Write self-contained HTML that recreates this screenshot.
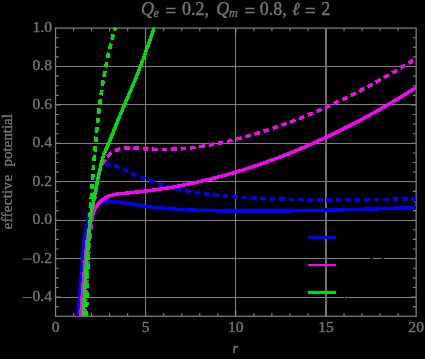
<!DOCTYPE html>
<html><head><meta charset="utf-8"><title>plot</title>
<style>html,body{margin:0;padding:0;background:#000;width:425px;height:359px;overflow:hidden}svg{display:block;position:absolute;left:0;top:0;will-change:transform}svg text{font-family:"Liberation Serif",serif}</style></head>
<body>
<svg width="425" height="359" viewBox="0 0 425 359">
<rect x="0" y="0" width="425" height="359" fill="#000"/>
<path d="M145.5 28.1 V316.25 M235.5 28.1 V316.25 M55.55 297.5 H416.15 M55.55 258.5 H416.15 M55.55 220.5 H416.15 M55.55 181.5 H416.15 M55.55 143.5 H416.15 M55.55 104.5 H416.15 M55.55 66.5 H416.15" stroke="#808080" stroke-width="1" fill="none" shape-rendering="crispEdges"/>
<path d="M326 28.1 V316.25" stroke="#6e6e6e" stroke-width="2" fill="none" shape-rendering="crispEdges"/>
<rect x="55.55" y="28.1" width="360.59999999999997" height="288.15" fill="none" stroke="#808080" stroke-width="1.25"/>
<path d="M73.58 316.25 v-3.2 M73.58 28.1 v3.2 M91.61 316.25 v-3.2 M91.61 28.1 v3.2 M109.64 316.25 v-3.2 M109.64 28.1 v3.2 M127.67 316.25 v-3.2 M127.67 28.1 v3.2 M145.70 316.25 v-5.2 M145.70 28.1 v5.2 M163.73 316.25 v-3.2 M163.73 28.1 v3.2 M181.76 316.25 v-3.2 M181.76 28.1 v3.2 M199.79 316.25 v-3.2 M199.79 28.1 v3.2 M217.82 316.25 v-3.2 M217.82 28.1 v3.2 M235.85 316.25 v-5.2 M235.85 28.1 v5.2 M253.88 316.25 v-3.2 M253.88 28.1 v3.2 M271.91 316.25 v-3.2 M271.91 28.1 v3.2 M289.94 316.25 v-3.2 M289.94 28.1 v3.2 M307.97 316.25 v-3.2 M307.97 28.1 v3.2 M326.00 316.25 v-5.2 M326.00 28.1 v5.2 M344.03 316.25 v-3.2 M344.03 28.1 v3.2 M362.06 316.25 v-3.2 M362.06 28.1 v3.2 M380.09 316.25 v-3.2 M380.09 28.1 v3.2 M398.12 316.25 v-3.2 M398.12 28.1 v3.2 M55.55 306.64 h3.2 M416.15 306.64 h-3.2 M55.55 297.04 h5.2 M416.15 297.04 h-5.2 M55.55 287.44 h3.2 M416.15 287.44 h-3.2 M55.55 277.83 h3.2 M416.15 277.83 h-3.2 M55.55 268.22 h3.2 M416.15 268.22 h-3.2 M55.55 258.62 h5.2 M416.15 258.62 h-5.2 M55.55 249.01 h3.2 M416.15 249.01 h-3.2 M55.55 239.41 h3.2 M416.15 239.41 h-3.2 M55.55 229.80 h3.2 M416.15 229.80 h-3.2 M55.55 220.20 h5.2 M416.15 220.20 h-5.2 M55.55 210.59 h3.2 M416.15 210.59 h-3.2 M55.55 200.99 h3.2 M416.15 200.99 h-3.2 M55.55 191.38 h3.2 M416.15 191.38 h-3.2 M55.55 181.78 h5.2 M416.15 181.78 h-5.2 M55.55 172.17 h3.2 M416.15 172.17 h-3.2 M55.55 162.57 h3.2 M416.15 162.57 h-3.2 M55.55 152.96 h3.2 M416.15 152.96 h-3.2 M55.55 143.36 h5.2 M416.15 143.36 h-5.2 M55.55 133.75 h3.2 M416.15 133.75 h-3.2 M55.55 124.15 h3.2 M416.15 124.15 h-3.2 M55.55 114.54 h3.2 M416.15 114.54 h-3.2 M55.55 104.94 h5.2 M416.15 104.94 h-5.2 M55.55 95.33 h3.2 M416.15 95.33 h-3.2 M55.55 85.73 h3.2 M416.15 85.73 h-3.2 M55.55 76.12 h3.2 M416.15 76.12 h-3.2 M55.55 66.52 h5.2 M416.15 66.52 h-5.2 M55.55 56.91 h3.2 M416.15 56.91 h-3.2 M55.55 47.31 h3.2 M416.15 47.31 h-3.2 M55.55 37.70 h3.2 M416.15 37.70 h-3.2" stroke="#808080" stroke-width="1.1" fill="none"/>
<clipPath id="cp"><rect x="55.55" y="27.4" width="360.60" height="288.85"/></clipPath>
<g clip-path="url(#cp)" stroke="none" shape-rendering="crispEdges">
<path d="M78.67 340.10 L79.03 331.13 L79.50 322.16 L80.08 313.19 L80.96 301.24 L84.20 262.38 L85.59 244.45 L86.18 238.53 L86.55 235.59 L87.00 232.68 L87.54 229.79 L88.19 226.93 L88.95 224.10 L89.84 221.33 L90.88 218.62 L92.07 215.98 L93.42 213.43 L94.93 211.01 L96.64 208.79 L98.58 206.84 L100.77 205.25 L103.20 204.09 L105.82 203.36 L108.58 203.02 L111.42 202.99 L114.31 203.17 L117.22 203.49 L120.14 203.92 L131.95 205.98 L137.90 206.93 L143.87 207.78 L152.84 208.88 L158.82 209.52 L164.82 210.08 L170.82 210.57 L176.82 210.99 L188.84 211.66 L194.84 211.91 L203.86 212.21 L218.88 212.54 L239.89 212.75 L260.91 212.78 L281.92 212.65 L305.93 212.33 L329.93 211.85 L356.93 211.17 L383.93 210.36 L419.41 209.18 L419.29 205.74 L383.82 206.91 L356.84 207.72 L329.85 208.41 L305.87 208.88 L281.88 209.20 L260.90 209.33 L239.91 209.30 L218.93 209.09 L203.95 208.76 L194.98 208.47 L189.00 208.21 L177.05 207.55 L171.08 207.13 L165.12 206.64 L159.17 206.09 L153.22 205.46 L144.33 204.36 L138.41 203.51 L132.51 202.58 L120.68 200.51 L117.66 200.07 L114.61 199.73 L111.51 199.54 L108.35 199.58 L105.16 199.97 L102.00 200.85 L99.02 202.28 L96.34 204.21 L94.05 206.51 L92.10 209.04 L91.79 209.54 L90.43 211.71 L89.23 213.98 L87.70 217.29 L86.59 220.19 L85.64 223.12 L84.84 226.10 L84.16 229.09 L83.60 232.10 L83.14 235.11 L82.75 238.13 L82.43 241.14 L81.91 247.15 L80.52 265.09 L77.76 297.98 L76.85 309.96 L76.06 321.96 L75.58 330.96 L75.22 339.98Z" fill="#0000ff"/>
<path d="M84.29 340.08 L84.64 334.91 L81.05 334.68 L80.70 339.82Z M84.87 331.06 L85.16 325.45 L81.56 325.28 L81.28 330.86Z M85.32 321.60 L85.52 315.99 L81.93 315.88 L81.72 321.46Z M85.64 312.15 L85.79 306.54 L82.19 306.46 L82.04 312.05Z M85.87 302.70 L85.98 297.09 L82.38 297.03 L82.27 302.62Z M86.05 293.25 L86.15 287.65 L82.55 287.59 L82.45 293.19Z M86.22 283.81 L86.32 278.22 L82.72 278.15 L82.62 283.75Z M86.40 274.38 L86.54 268.79 L82.94 268.70 L82.80 274.30Z M86.65 264.96 L86.84 259.38 L83.24 259.24 L83.05 264.85Z M86.99 255.55 L87.25 249.97 L83.66 249.78 L83.39 255.39Z M87.47 246.15 L87.83 240.59 L84.24 240.33 L83.87 245.94Z M88.12 236.77 L88.60 231.22 L85.01 230.88 L84.53 236.48Z M88.97 227.41 L89.60 221.88 L86.03 221.45 L85.39 227.04Z M90.08 218.09 L90.88 212.58 L87.32 212.04 L86.51 217.62Z M91.48 208.81 L92.44 203.33 L88.90 202.68 L87.93 208.23Z M93.15 199.57 L94.23 194.09 L90.70 193.38 L89.61 198.89Z M95.00 190.34 L96.14 184.88 L92.63 184.11 L91.47 189.61Z M97.00 181.20 L97.48 179.35 L98.32 176.58 L98.53 176.04 L95.17 174.74 L94.92 175.41 L94.01 178.38 L93.52 180.31Z M99.99 172.73 L100.62 171.54 L102.25 169.49 L102.95 168.95 L100.73 166.12 L99.72 166.93 L98.02 169.04 L97.61 169.56 L96.81 171.04Z M105.83 167.22 L106.57 166.89 L109.09 166.53 L110.42 166.67 L110.75 163.08 L109.03 162.93 L108.32 163.01 L105.61 163.42 L104.38 163.93Z M113.88 167.35 L114.40 167.49 L117.08 168.49 L118.83 169.27 L120.29 165.98 L118.44 165.16 L115.50 164.06 L114.80 163.87Z M122.24 170.88 L127.29 173.34 L128.84 170.09 L123.82 167.65Z M130.83 174.96 L136.01 177.19 L137.39 173.87 L132.29 171.67Z M139.58 178.65 L144.80 180.73 L146.12 177.38 L140.93 175.31Z M148.39 182.13 L153.70 184.08 L154.88 180.67 L149.68 178.76Z M157.37 185.32 L162.76 187.01 L163.79 183.56 L158.49 181.90Z M166.47 188.08 L171.93 189.53 L172.82 186.04 L167.45 184.61Z M175.69 190.44 L181.20 191.67 L181.95 188.15 L176.52 186.94Z M184.99 192.45 L190.52 193.47 L191.16 189.93 L185.68 188.91Z M194.34 194.12 L199.90 194.98 L200.42 191.41 L194.91 190.57Z M203.73 195.51 L209.31 196.22 L209.73 192.64 L204.20 191.94Z M213.14 196.65 L218.73 197.24 L219.08 193.65 L213.53 193.08Z M222.56 197.60 L228.16 198.08 L228.45 194.49 L222.89 194.01Z M232.00 198.38 L237.59 198.79 L237.84 195.20 L232.27 194.79Z M241.43 199.05 L247.03 199.40 L247.25 195.81 L241.67 195.46Z M250.87 199.62 L256.47 199.93 L256.66 196.33 L251.08 196.03Z M260.31 200.12 L265.92 200.38 L266.07 196.78 L260.49 196.52Z M269.76 200.54 L275.36 200.76 L275.49 197.16 L269.90 196.94Z M279.20 200.89 L284.81 201.07 L284.91 197.47 L279.32 197.29Z M288.65 201.17 L294.26 201.31 L294.34 197.71 L288.75 197.57Z M298.10 201.39 L303.71 201.49 L303.77 197.89 L298.17 197.79Z M307.55 201.55 L313.16 201.62 L313.20 198.02 L307.60 197.95Z M317.00 201.66 L322.61 201.70 L322.63 198.10 L317.03 198.06Z M326.45 201.71 L332.05 201.72 L332.06 198.12 L326.46 198.11Z M335.90 201.72 L341.50 201.71 L341.49 198.11 L335.89 198.12Z M345.35 201.69 L350.95 201.65 L350.92 198.05 L345.33 198.09Z M354.79 201.62 L360.40 201.57 L360.36 197.97 L354.76 198.02Z M364.24 201.52 L369.84 201.45 L369.79 197.85 L364.19 197.92Z M373.68 201.39 L379.28 201.30 L379.22 197.70 L373.63 197.79Z M383.12 201.23 L388.73 201.13 L388.66 197.53 L383.06 197.64Z M392.57 201.06 L398.17 200.95 L398.09 197.35 L392.50 197.46Z M402.01 200.87 L407.61 200.75 L407.53 197.15 L401.93 197.27Z M411.45 200.67 L417.05 200.54 L416.97 196.94 L411.37 197.07Z" fill="#0000ff"/>
<path d="M80.94 340.09 L81.63 328.12 L82.42 316.16 L83.53 301.22 L84.73 286.28 L86.27 268.35 L87.87 250.44 L88.85 241.54 L89.68 235.65 L90.70 229.80 L91.30 226.90 L91.96 224.02 L92.70 221.16 L93.50 218.32 L94.39 215.51 L95.37 212.76 L96.49 210.11 L97.81 207.60 L99.38 205.27 L101.20 203.14 L103.24 201.26 L105.52 199.67 L107.99 198.37 L110.62 197.36 L113.37 196.58 L116.20 195.99 L119.09 195.55 L122.02 195.21 L133.96 194.11 L142.94 193.13 L151.90 192.01 L160.84 190.74 L166.79 189.80 L172.22 188.89 L181.60 187.18 L190.95 185.30 L196.34 184.14 L202.21 182.81 L210.50 180.83 L216.82 179.22 L225.54 176.88 L234.22 174.39 L242.86 171.78 L251.46 169.03 L260.01 166.16 L268.52 163.16 L276.99 160.03 L285.41 156.79 L293.79 153.44 L304.88 148.79 L313.15 145.18 L324.10 140.19 L332.26 136.34 L343.06 131.05 L351.10 126.97 L361.75 121.38 L369.68 117.09 L380.18 111.23 L388.00 106.73 L398.35 100.61 L408.62 94.35 L418.37 88.23 L416.52 85.32 L406.80 91.42 L396.58 97.66 L386.27 103.75 L378.48 108.23 L368.02 114.06 L360.13 118.34 L349.52 123.90 L341.51 127.96 L330.76 133.23 L322.64 137.07 L311.75 142.02 L303.52 145.62 L292.48 150.24 L284.15 153.58 L275.77 156.81 L267.35 159.91 L258.89 162.89 L250.38 165.75 L241.83 168.49 L233.24 171.09 L224.62 173.55 L215.95 175.88 L209.67 177.48 L201.43 179.45 L195.60 180.77 L189.75 182.03 L180.95 183.79 L171.64 185.49 L166.23 186.40 L160.32 187.33 L151.44 188.59 L142.54 189.71 L133.62 190.67 L121.66 191.78 L118.64 192.13 L115.59 192.59 L112.55 193.23 L109.53 194.08 L106.57 195.23 L103.72 196.72 L101.08 198.57 L98.71 200.75 L96.63 203.18 L94.85 205.83 L93.38 208.63 L93.15 209.16 L92.16 211.51 L91.12 214.41 L90.20 217.32 L89.37 220.25 L88.61 223.20 L87.93 226.17 L87.31 229.14 L86.76 232.12 L85.83 238.11 L85.43 241.11 L84.74 247.10 L83.89 256.09 L82.06 277.02 L80.56 294.96 L79.41 309.93 L78.38 324.91 L77.49 339.90Z" fill="#ff00ff"/>
<path d="M86.08 333.06 L86.30 327.46 L82.70 327.32 L82.48 332.92Z M86.45 323.63 L86.68 318.03 L83.09 317.88 L82.86 323.48Z M86.85 314.20 L87.10 308.61 L83.50 308.45 L83.25 314.04Z M87.28 304.78 L87.55 299.19 L83.95 299.01 L83.68 304.61Z M87.74 295.36 L88.04 289.77 L84.44 289.57 L84.14 295.17Z M88.25 285.94 L88.58 280.35 L84.99 280.14 L84.66 285.73Z M88.82 276.53 L89.18 270.95 L85.59 270.70 L85.22 276.30Z M89.44 267.12 L89.85 261.54 L86.26 261.27 L85.85 266.87Z M90.14 257.72 L90.59 252.15 L87.00 251.85 L86.55 257.44Z M90.91 248.33 L91.41 242.76 L87.83 242.43 L87.33 248.02Z M91.77 238.94 L92.32 233.38 L88.74 233.02 L88.19 238.60Z M92.72 229.57 L93.32 224.01 L89.75 223.61 L89.14 229.19Z M93.76 220.21 L94.43 214.66 L90.86 214.22 L90.19 219.79Z M94.91 210.86 L95.64 205.32 L92.07 204.83 L91.34 210.40Z M96.16 201.52 L96.96 195.99 L93.40 195.46 L92.60 201.02Z M97.53 192.20 L98.40 186.69 L94.85 186.11 L93.97 191.66Z M99.04 182.92 L99.74 179.21 L100.12 177.51 L96.61 176.73 L96.22 178.48 L95.49 182.30Z M101.02 173.85 L101.96 170.70 L102.68 168.67 L99.29 167.46 L98.54 169.57 L97.54 172.94Z M104.07 165.27 L105.35 162.75 L106.68 160.59 L103.64 158.66 L102.21 160.99 L100.81 163.75Z M108.80 157.83 L110.46 156.11 L112.68 154.37 L110.67 151.38 L108.05 153.43 L106.20 155.34Z M115.76 152.65 L117.57 151.84 L120.26 150.97 L120.69 150.87 L119.89 147.36 L119.30 147.49 L116.28 148.48 L114.29 149.36Z M124.31 150.15 L125.87 149.93 L128.74 149.72 L129.65 149.71 L129.60 146.11 L128.59 146.13 L125.48 146.35 L123.79 146.59Z M133.41 149.74 L134.58 149.78 L138.91 150.07 L139.20 146.48 L134.75 146.18 L133.52 146.14Z M142.72 150.40 L148.34 150.84 L148.59 147.24 L143.04 146.81Z M152.21 151.06 L157.85 151.25 L157.94 147.65 L152.39 147.46Z M161.73 151.30 L167.37 151.24 L167.30 147.64 L161.74 147.70Z M171.25 151.12 L176.88 150.85 L176.65 147.25 L171.10 147.53Z M180.73 150.58 L186.35 150.10 L185.99 146.51 L180.46 146.99Z M190.19 149.69 L195.79 149.01 L195.31 145.45 L189.79 146.12Z M199.61 148.49 L205.18 147.63 L204.60 144.08 L199.10 144.92Z M208.98 146.99 L214.52 145.96 L213.84 142.43 L208.37 143.44Z M218.31 145.21 L223.81 144.04 L223.04 140.52 L217.59 141.68Z M227.58 143.19 L233.05 141.89 L232.19 138.39 L226.77 139.69Z M236.79 140.95 L242.23 139.52 L241.29 136.05 L235.90 137.46Z M245.95 138.50 L251.36 136.97 L250.35 133.51 L244.98 135.04Z M255.05 135.88 L260.43 134.25 L259.36 130.81 L254.02 132.43Z M264.10 133.09 L269.45 131.36 L268.32 127.94 L263.01 129.66Z M273.10 130.14 L278.42 128.31 L277.23 124.92 L271.95 126.73Z M282.05 127.03 L287.33 125.12 L286.09 121.74 L280.84 123.64Z M290.94 123.77 L296.19 121.77 L294.89 118.41 L289.67 120.40Z M299.78 120.36 L304.99 118.27 L303.63 114.94 L298.45 117.01Z M308.55 116.81 L313.73 114.64 L312.32 111.33 L307.18 113.48Z M317.27 113.12 L322.42 110.87 L320.96 107.58 L315.85 109.82Z M325.93 109.30 L331.05 106.98 L329.54 103.71 L324.46 106.02Z M334.54 105.36 L339.61 102.96 L338.07 99.71 L333.02 102.10Z M343.09 101.29 L348.13 98.82 L346.53 95.59 L341.52 98.05Z M351.58 97.10 L356.58 94.57 L354.94 91.36 L349.96 93.89Z M360.01 92.80 L364.98 90.20 L363.30 87.02 L358.35 89.61Z M368.38 88.40 L373.32 85.74 L371.60 82.57 L366.68 85.22Z M376.70 83.89 L381.61 81.17 L379.85 78.03 L374.96 80.73Z M384.96 79.28 L389.84 76.50 L388.04 73.38 L383.19 76.15Z M393.17 74.58 L398.01 71.75 L396.19 68.64 L391.36 71.46Z M401.32 69.79 L406.14 66.90 L404.28 63.82 L399.48 66.69Z M409.43 64.90 L414.21 61.97 L412.32 58.91 L407.55 61.83Z" fill="#ff00ff"/>
<path d="M83.67 340.08 L85.79 301.15 L86.69 286.18 L87.66 271.23 L88.73 256.28 L89.68 244.33 L90.70 232.38 L91.55 223.45 L92.26 217.55 L92.70 214.62 L93.22 211.71 L99.02 182.30 L100.81 173.49 L102.06 167.65 L102.73 164.76 L103.47 161.89 L104.27 159.06 L105.17 156.26 L106.16 153.50 L107.28 150.78 L109.68 145.29 L112.02 139.74 L119.90 120.26 L123.32 111.96 L131.61 92.68 L135.13 84.37 L138.54 76.02 L142.91 64.81 L146.06 56.35 L150.07 45.01 L153.88 33.60 L157.33 22.60 L154.03 21.59 L150.59 32.53 L146.80 43.89 L142.81 55.17 L139.69 63.59 L135.34 74.74 L131.95 83.05 L128.44 91.32 L120.14 110.62 L116.70 118.96 L108.83 138.42 L106.51 143.93 L104.11 149.43 L102.95 152.26 L101.90 155.14 L100.97 158.06 L100.14 160.99 L99.38 163.94 L98.69 166.89 L97.43 172.79 L95.63 181.62 L89.83 211.07 L89.30 214.07 L88.85 217.07 L88.12 223.09 L87.27 232.07 L86.24 244.04 L85.29 256.02 L84.22 270.99 L83.24 285.97 L82.34 300.95 L80.22 339.90Z" fill="#00e000"/>
<path d="M91.33 227.01 L91.63 221.42 L88.04 221.23 L87.74 226.82Z M91.85 217.59 L92.17 212.01 L88.58 211.79 L88.25 217.39Z M92.40 208.18 L92.75 202.59 L89.16 202.36 L88.81 207.96Z M93.00 198.76 L93.37 193.18 L89.78 192.94 L89.41 198.53Z M93.64 189.35 L94.03 183.77 L90.44 183.51 L90.04 189.10Z M94.31 179.95 L94.74 174.37 L91.15 174.09 L90.72 179.68Z M95.03 170.54 L95.48 164.96 L91.89 164.67 L91.44 170.26Z M95.80 161.14 L96.27 155.56 L92.68 155.26 L92.21 160.84Z M96.60 151.74 L97.10 146.17 L93.52 145.84 L93.02 151.43Z M97.45 142.35 L97.98 136.78 L94.40 136.44 L93.87 142.02Z M98.36 132.97 L98.92 127.40 L95.34 127.03 L94.77 132.61Z M99.33 123.59 L99.95 118.04 L96.37 117.63 L95.75 123.20Z M100.39 114.23 L101.06 108.68 L97.49 108.23 L96.81 113.81Z M101.54 104.88 L102.28 99.34 L98.71 98.85 L97.97 104.42Z M102.81 95.55 L103.62 90.02 L100.06 89.49 L99.25 95.04Z M104.21 86.24 L105.10 80.73 L101.55 80.14 L100.65 85.68Z M105.74 76.96 L106.73 71.46 L103.19 70.81 L102.20 76.34Z M107.44 67.70 L108.52 62.23 L105.00 61.51 L103.90 67.02Z M109.31 58.48 L110.50 53.04 L106.99 52.24 L105.78 57.73Z M111.36 49.31 L112.66 43.89 L109.17 43.02 L107.85 48.48Z M113.60 40.18 L115.04 34.79 L111.56 33.84 L110.12 39.28Z M116.06 31.11 L117.63 25.76 L114.18 24.73 L112.60 30.13Z M88.09 335.58 L88.14 329.99 L84.54 329.95 L84.49 335.55Z M88.18 326.15 L88.26 320.56 L84.66 320.50 L84.59 326.11Z M88.31 316.72 L88.41 311.12 L84.81 311.06 L84.72 316.66Z M88.48 307.29 L88.59 301.69 L84.99 301.62 L84.88 307.22Z M88.68 297.86 L88.81 292.26 L85.21 292.17 L85.08 297.77Z M88.91 288.43 L89.07 282.83 L85.47 282.73 L85.31 288.33Z M89.18 279.00 L89.36 273.40 L85.76 273.28 L85.58 278.89Z M89.49 269.57 L89.69 263.98 L86.09 263.84 L85.89 269.44Z M89.83 260.14 L90.05 254.55 L86.45 254.40 L86.23 260.00Z M90.21 250.71 L90.45 245.12 L86.86 244.96 L86.61 250.56Z M90.63 241.29 L90.89 235.70 L87.30 235.53 L87.03 241.13Z M91.08 231.87 L91.37 226.28 L87.78 226.09 L87.49 231.69Z" fill="#00e000"/>
</g>
<g stroke="#747474" stroke-width="0.4">
<text x="52.0" y="300.99" text-anchor="end" font-size="15.6" fill="#747474">0.4</text>
<path d="M22.8 297.49 H31.7" stroke="#747474" stroke-width="1.0" fill="none"/>
<text x="52.0" y="262.57" text-anchor="end" font-size="15.6" fill="#747474">0.2</text>
<path d="M22.8 259.07 H31.7" stroke="#747474" stroke-width="1.0" fill="none"/>
<text x="52.0" y="224.15" text-anchor="end" font-size="15.6" fill="#747474">0.0</text>
<text x="52.0" y="185.73" text-anchor="end" font-size="15.6" fill="#747474">0.2</text>
<text x="52.0" y="147.31" text-anchor="end" font-size="15.6" fill="#747474">0.4</text>
<text x="52.0" y="108.89" text-anchor="end" font-size="15.6" fill="#747474">0.6</text>
<text x="52.0" y="70.47" text-anchor="end" font-size="15.6" fill="#747474">0.8</text>
<text x="52.0" y="32.05" text-anchor="end" font-size="15.6" fill="#747474">1.0</text>
<text x="55.55" y="332.2" text-anchor="middle" font-size="15.6" fill="#747474">0</text>
<text x="145.70" y="332.2" text-anchor="middle" font-size="15.6" fill="#747474">5</text>
<text x="235.85" y="332.2" text-anchor="middle" font-size="15.6" fill="#747474">10</text>
<text x="326.00" y="332.2" text-anchor="middle" font-size="15.6" fill="#747474">15</text>
<text x="416.15" y="332.2" text-anchor="middle" font-size="15.6" fill="#747474">20</text>
<text x="235.25" y="353.1" text-anchor="middle" font-size="14.5" font-style="italic" fill="#747474">r</text>
<text transform="translate(12.3,202.1) rotate(-90)" text-anchor="middle" font-size="15" letter-spacing="0.3" fill="#747474">effective</text>
<text transform="translate(12.3,140.3) rotate(-90)" text-anchor="middle" font-size="15" fill="#747474">potential</text>
<text x="141.0" y="15.0" font-size="18" text-anchor="start" fill="#747474" font-style="italic">Q</text>
<text x="153.6" y="17.3" font-size="12.2" text-anchor="start" fill="#747474" font-style="italic">e</text>
<text x="165.5" y="16.6" font-size="19" text-anchor="start" fill="#747474">=</text>
<text x="181.9" y="15.0" font-size="18" text-anchor="start" fill="#747474">0.2,</text>
<text x="216.3" y="15.0" font-size="18" text-anchor="start" fill="#747474" font-style="italic">Q</text>
<text x="228.9" y="17.3" font-size="12.2" text-anchor="start" fill="#747474" font-style="italic">m</text>
<text x="244.5" y="16.6" font-size="19" text-anchor="start" fill="#747474">=</text>
<text x="259.7" y="15.0" font-size="18" text-anchor="start" fill="#747474">0.8,</text>
<text x="292.0" y="15.0" font-size="18" text-anchor="start" fill="#747474" font-style="italic">ℓ</text>
<text x="305.0" y="16.6" font-size="19" text-anchor="start" fill="#747474">=</text>
<text x="321.2" y="15.0" font-size="18" text-anchor="start" fill="#747474">2</text>
</g>
<path d="M308 237.5 H336" stroke="#0000ff" stroke-width="3" shape-rendering="crispEdges"/>
<path d="M308 265 H336" stroke="#ff00ff" stroke-width="2" shape-rendering="crispEdges"/>
<path d="M308 292.5 H336" stroke="#00e000" stroke-width="3" shape-rendering="crispEdges"/>
<path d="M370.4 257.2h2.3v2.8h-2.3z M381.8 257.2h2.1v2.8h-2.1z M343.9 295.6h1.0v2.8h-1.0z" fill="#000"/>
</svg>
</body></html>
